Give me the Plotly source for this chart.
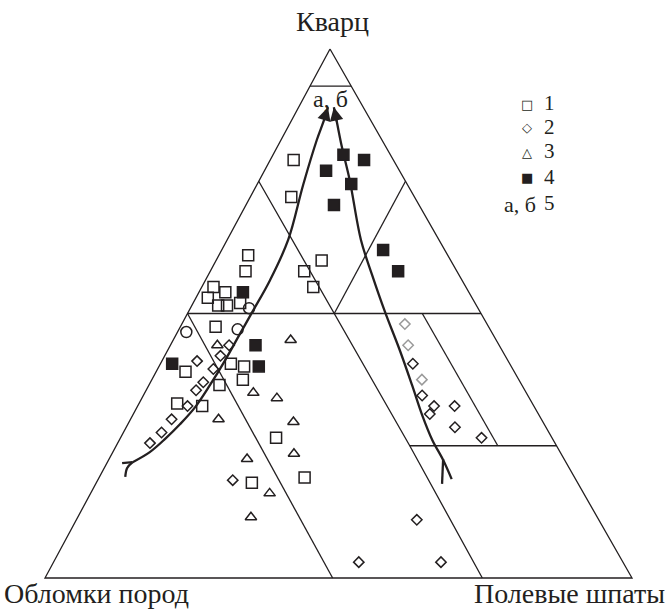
import plotly.graph_objects as go

# Sandstone compositions, % (Q = quartz, F = feldspar; rock fragments R = 100 - Q - F)
# 1 - open squares
q1 = [79, 72, 61, 58, 58, 60, 55, 55, 54, 53, 51.5, 51.5, 52, 47.5, 39, 40.5, 40, 37.5, 36.5, 33, 32.5, 26.5, 18, 19]
f1 = [4, 7, 5, 6, 16, 18, 19, 2, 4.5, 2, 4.5, 6, 8, 6, 5, 12, 14.5, 15.5, 12, 6.5, 11, 26.5, 26.5, 35]
# 2 - open diamonds (pale: faint points)
q2 = [44, 42, 41, 39.5, 37, 35.5, 32.5, 30, 27.5, 25.5, 18.5, 48, 44, 40.5, 37.5, 34.5, 32.5, 31, 32.5, 28.5, 26.5, 11, 3, 3]
f2 = [10, 9.5, 6, 9.5, 9, 8.5, 8.5, 7, 6.5, 5.5, 23, 38, 40.5, 43, 46, 47.5, 50.5, 50.5, 54, 56, 61.5, 58, 52, 66]
pale2 = [0, 0, 0, 0, 0, 0, 0, 0, 0, 0, 0, 1, 1, 0, 1, 0, 0, 0, 0, 0, 0, 0, 0, 0]
# 3 - open triangles
q3 = [44, 45, 35, 34, 30, 29.5, 23.5, 22.5, 16, 11.5]
f3 = [8, 20, 18.5, 23, 15, 28, 31, 23.5, 30.5, 29.5]
# 4 - filled squares
q4 = [80, 79, 77, 74.5, 70.5, 62, 58, 54, 44, 40, 40.5]
f4 = [12, 16, 10.5, 16, 15, 27.5, 32, 7.5, 14.5, 17, 2]
# open circles
q5 = [51, 46.5, 47]
f5 = [10, 1.5, 10]

# trend lines "а" and "б" (Q, F), from the tail up to the arrow tip
qa = [21.9, 23.8, 26.3, 29.1, 32.3, 36.5, 41.2, 46.1, 50.3, 56.3, 63.9, 74.3, 82.8, 86.6, 89.0]
fa = [4.3, 6.3, 7.7, 8.9, 9.9, 10.4, 10.7, 10.8, 10.9, 11.0, 10.4, 7.9, 6.1, 5.5, 5.0]
qa_tail = [[21.9, 21.7], [21.9, 20.8, 19.1]]
fa_tail = [[4.3, 2.6], [4.3, 3.9, 4.4]]
qb = [18.7, 22.3, 26.1, 30.8, 36.5, 43.1, 50.3, 57.3, 63.9, 75.2, 81.5, 86.0, 89.0]
fb = [60.2, 57.0, 53.3, 49.3, 44.8, 39.5, 33.5, 27.9, 22.8, 15.4, 11.0, 8.0, 6.0]
qb_tail = [[22.5, 17.8]]
fb_tail = [[56.9, 59.0]]

# Field boundaries of the classification diagram, as (Q, F) polylines
boundaries = [
    [(100, 0), (0, 0), (0, 100), (100, 0)],   # outer triangle
    [(93, 0), (93, 7)],
    [(50, 0), (50, 50)],
    [(75, 0), (50, 25), (25, 50), (0, 74.5)],
    [(75, 25), (50, 25)],
    [(50, 0), (0, 49)],
    [(50, 40), (25, 65)],
    [(25, 50), (25, 75)],
]

# Page geometry of the triangle (pixels): base ends and apex
W, H = 669, 609
BASE_L, BASE_R, BASE_Y = 45, 632, 578
APEX_X, APEX_Y = 330, 49
sx = (BASE_R - BASE_L) / 100.0
sy = (BASE_Y - APEX_Y) / 100.0
APEX_SHIFT = (APEX_X - BASE_L) / (BASE_R - BASE_L)


def to_xy(q, f):
    """Ternary (Q, F) -> plane coordinates: R vertex at (0,0), F at (100,0), Q at top."""
    return [fi + APEX_SHIFT * qi for qi, fi in zip(q, f)], list(q)


INK = "#231f20"
fig = go.Figure()

# boundaries in one trace
bx, by = [], []
for seg in boundaries:
    x, y = to_xy([p[0] for p in seg], [p[1] for p in seg])
    bx += x + [None]
    by += y + [None]
fig.add_trace(go.Scatter(x=bx, y=by, mode="lines", line=dict(color=INK, width=1.3),
                         hoverinfo="skip"))

# trend curves
for q, f in [(qa, fa), (qb, fb)]:
    x, y = to_xy(q, f)
    fig.add_trace(go.Scatter(x=x, y=y, mode="lines",
                             line=dict(color=INK, width=2.3, shape="spline", smoothing=1.0),
                             hoverinfo="skip"))
for tq, tf in [(qa_tail, fa_tail), (qb_tail, fb_tail)]:
    for q, f in zip(tq, tf):
        x, y = to_xy(q, f)
        fig.add_trace(go.Scatter(x=x, y=y, mode="lines",
                                 line=dict(color=INK, width=2.3, shape="spline"),
                                 hoverinfo="skip"))

# arrow heads at the tips of the trend curves
for q, f in [(qa, fa), (qb, fb)]:
    x, y = to_xy(q[-2:], f[-2:])
    fig.add_annotation(x=x[1], y=y[1], ax=x[0], ay=y[0], xref="x", yref="y",
                       axref="x", ayref="y", showarrow=True, arrowhead=2,
                       arrowsize=1.35, arrowwidth=2, arrowcolor=INK, text="")

# data points
series = [
    (q1, f1, "square-open", 11, INK),
    (q2, f2, "diamond-open", 8, ["#9a9a9a" if p else INK for p in pale2]),
    (q3, f3, "triangle-up-open", 10, INK),
    (q4, f4, "square", 11, INK),
    (q5, f5, "circle-open", 11, INK),
]
for q, f, sym, size, col in series:
    x, y = to_xy(q, f)
    fig.add_trace(go.Scatter(x=x, y=y, mode="markers",
                             marker=dict(symbol=sym, size=size, color=col,
                                         line=dict(width=1.5, color=col))))

SERIF = "Liberation Serif"
SYM = "DejaVu Sans"


def px_text(text, x, y, size, xanchor="center", font=SERIF):
    fig.add_annotation(x=x / W, y=1 - y / H, xref="paper", yref="paper", text=text,
                       showarrow=False, xanchor=xanchor, yanchor="middle",
                       font=dict(family=font, size=size, color=INK))


# vertex labels
px_text("Кварц", 332, 22, 28)
px_text("Обломки пород", 2, 593, 28, xanchor="left")
px_text("Полевые шпаты", 667, 593, 28, xanchor="right")
px_text("а, б", 330, 99, 24)

# legend
legend_syms = ["□", "◇", "△", "■"]
legend_rows = [103.5, 127, 151, 177]
for i, (s, yy) in enumerate(zip(legend_syms, legend_rows)):
    px_text(s, 527, yy + 1, 13, font=SYM)
    px_text(str(i + 1), 549, yy, 21)
px_text("а, б", 538, 205, 22, xanchor="right")
px_text("5", 549, 203, 21)

fig.update_layout(
    width=W, height=H, autosize=False,
    margin=dict(l=0, r=0, t=0, b=0),
    paper_bgcolor="white", plot_bgcolor="white",
    showlegend=False,
    xaxis=dict(range=[-BASE_L / sx, (W - BASE_L) / sx], visible=False, fixedrange=True),
    yaxis=dict(range=[-(H - BASE_Y) / sy, BASE_Y / sy], visible=False, fixedrange=True),
)
fig.write_html("out.html")
